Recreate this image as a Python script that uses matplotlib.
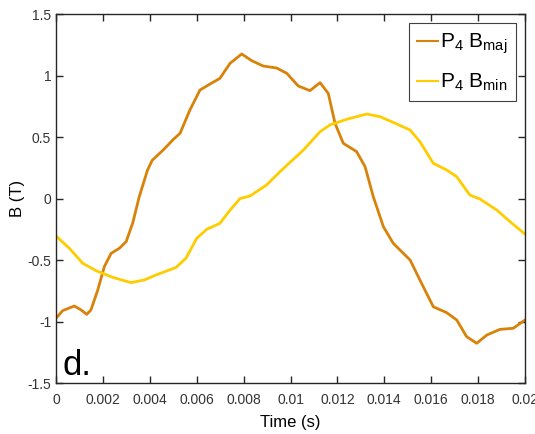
import matplotlib
matplotlib.use('Agg')
import matplotlib.pyplot as plt
from matplotlib import font_manager

# font: narrow Helvetica-like if present
names = {f.name for f in font_manager.fontManager.ttflist}
fam = 'Liberation Sans Narrow' if 'Liberation Sans Narrow' in names else 'Liberation Sans'
plt.rcParams['font.family'] = [fam, 'DejaVu Sans']
plt.rcParams['mathtext.default'] = 'regular'

# P4 Bmaj
t_maj = [0.0, 0.00028, 0.00078, 0.00107, 0.00131, 0.00149, 0.00178, 0.00206, 0.00235, 0.0027,
         0.00299, 0.00327, 0.00355, 0.00377, 0.0039, 0.0041, 0.0046, 0.0050, 0.00529, 0.00571,
         0.00614, 0.00657, 0.00699, 0.00742, 0.00792, 0.00835, 0.00884, 0.00941, 0.00984, 0.01033,
         0.01083, 0.01126, 0.01161, 0.0119, 0.01225, 0.01282, 0.01318, 0.01353, 0.01396, 0.01438,
         0.0151, 0.01552, 0.01609, 0.01666, 0.01709, 0.01751, 0.01794, 0.01837, 0.01893, 0.0195,
         0.0200]
b_maj = [-0.974, -0.912, -0.874, -0.906, -0.942, -0.906, -0.744, -0.554, -0.446, -0.405,
         -0.351, -0.20, 0.015, 0.15, 0.23, 0.31, 0.40, 0.48, 0.53, 0.72,
         0.882, 0.931, 0.977, 1.099, 1.175, 1.12, 1.077, 1.061, 1.018, 0.915,
         0.877, 0.942, 0.855, 0.611, 0.449, 0.381, 0.259, 0.015, -0.229, -0.364,
         -0.50, -0.663, -0.88, -0.928, -0.988, -1.123, -1.177, -1.11, -1.064, -1.055,
         -0.988]

# P4 Bmin
t_min = [0.0, 0.00057, 0.00114, 0.00171, 0.00242, 0.0032, 0.00377, 0.00426, 0.00512, 0.00554,
         0.0060, 0.00643, 0.00699, 0.00740, 0.00785, 0.00827, 0.00898, 0.00955, 0.01055, 0.01126,
         0.01168, 0.0124, 0.01325, 0.01382, 0.01438, 0.0151, 0.01552, 0.01609, 0.01666, 0.01709,
         0.01765, 0.01808, 0.01879, 0.01936, 0.0200]
b_min = [-0.305, -0.405, -0.527, -0.587, -0.641, -0.684, -0.662, -0.622, -0.56, -0.486,
         -0.324, -0.25, -0.202, -0.10, 0.0, 0.02, 0.11, 0.218, 0.394, 0.543,
         0.598, 0.644, 0.687, 0.665, 0.619, 0.557, 0.462, 0.286, 0.232, 0.177,
         0.028, -0.004, -0.093, -0.188, -0.289]

xticks = [0, 0.002, 0.004, 0.006, 0.008, 0.01, 0.012, 0.014, 0.016, 0.018, 0.02]
xlabels = ['0', '0.002', '0.004', '0.006', '0.008', '0.01', '0.012', '0.014', '0.016', '0.018', '0.02']
yticks = [-1.5, -1, -0.5, 0, 0.5, 1, 1.5]
ylabels = ['-1.5', '-1', '-0.5', '0', '0.5', '1', '1.5']

fig = plt.figure(figsize=(5.35, 4.34), dpi=100)
ax = fig.add_axes([0.1047, 0.1175, 0.8766, 0.8502])

ax.plot(t_maj, b_maj, color='#D9820A', lw=2, solid_joinstyle='round', label=r'P$_4$ B$_{maj}$')
ax.plot(t_min, b_min, color='#FFCC00', lw=2, solid_joinstyle='round', label=r'P$_4$ B$_{min}$')

ax.set_xlim(0, 0.02)
ax.set_ylim(-1.5, 1.5)
ax.set_xticks(xticks)
ax.set_xticklabels(xlabels)
ax.set_yticks(yticks)
ax.set_yticklabels(ylabels)
ax.tick_params(direction='in', top=True, right=True, length=5, width=1,
               labelsize=10, colors='#262626', labelcolor='#333333')
ax.tick_params(axis='x', pad=7)
for s in ax.spines.values():
    s.set_color('#262626')
    s.set_linewidth(1)

ax.set_xlabel('Time (s)', fontsize=12, labelpad=6)
ax.set_ylabel('B (T)', fontsize=12)
ax.yaxis.set_label_coords(-0.066, 0.5)

ax.text(0.013, 0.003, 'd.', transform=ax.transAxes, fontsize=25, ha='left', va='bottom')

leg = ax.legend(loc='upper right', fontsize=15, handlelength=1.0, handletextpad=0.1,
                borderpad=0.4, labelspacing=0.75, fancybox=False, framealpha=1,
                borderaxespad=0.45)
leg.get_frame().set_edgecolor('#404040')
leg.get_frame().set_linewidth(0.8)
for h in leg.get_lines():
    h.set_linewidth(1.5)

fig.savefig('out.png', dpi=100)
